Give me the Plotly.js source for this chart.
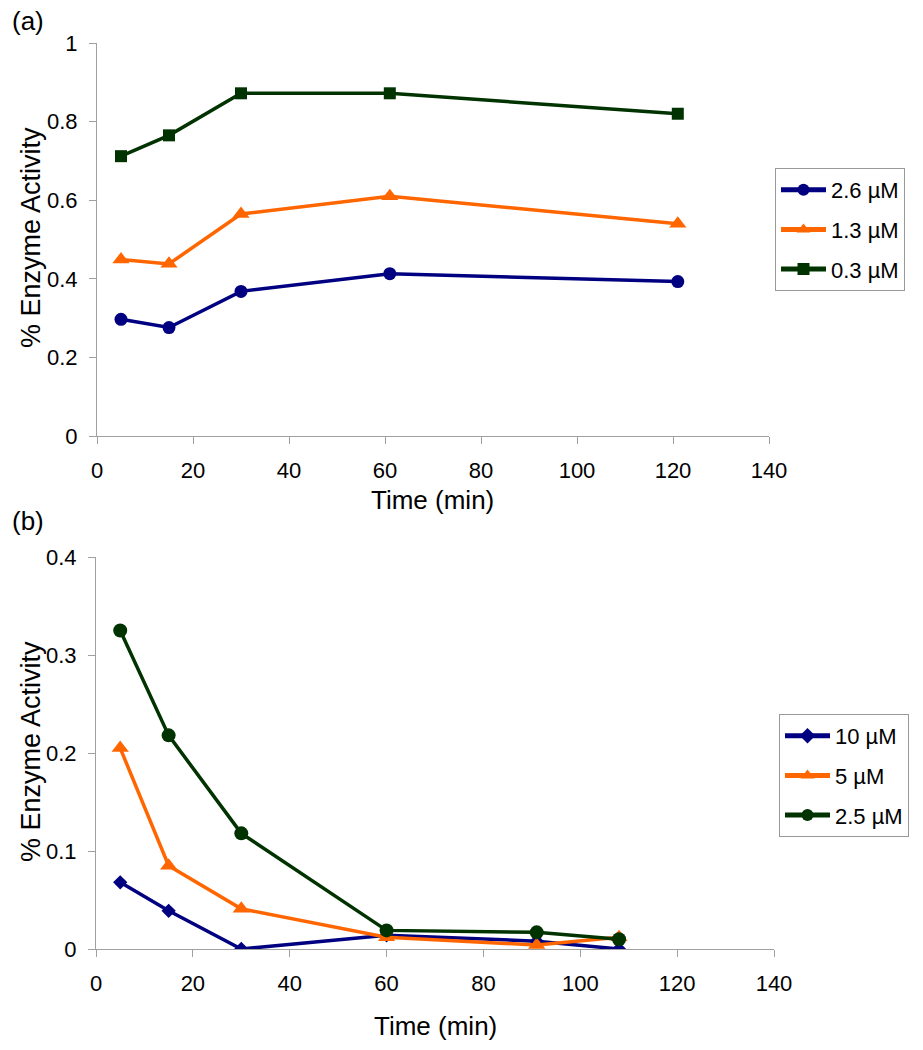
<!DOCTYPE html>
<html><head><meta charset="utf-8">
<script src="https://cdn.plot.ly/plotly-3.0.1.min.js"></script>
<style>body{margin:0;background:#fff}#chart{width:923px;height:1050px}</style>
</head><body><div id="chart"></div>
<script>
// Panel (a)
const timeA = [5, 15, 30, 61, 121];
const a26 = [0.297, 0.276, 0.368, 0.413, 0.393];
const a13 = [0.449, 0.438, 0.565, 0.610, 0.540];
const a03 = [0.712, 0.765, 0.872, 0.872, 0.820];
// Panel (b)
const timeB = [5, 15, 30, 60, 91, 108];
const b10 = [0.068, 0.039, 0.000, 0.014, 0.008, 0.000];
const b5 = [0.205, 0.085, 0.041, 0.012, 0.004, 0.012];
const b25 = [0.325, 0.218, 0.118, 0.019, 0.017, 0.010];

const NAVY = '#000080', ORANGE = '#FF6600', GREEN = '#003300';
const FONT = 'Liberation Sans, Arial, sans-serif';

function tr(x, y, name, color, symbol, xa, ya, leg, msize) {
  return {x: x, y: y, name: name, type: 'scatter', mode: 'lines+markers',
    xaxis: xa, yaxis: ya, legend: leg, legendgroup: name,
    line: {color: color, width: 3.5},
    marker: {color: color, symbol: symbol, size: msize}};
}

const data = [
  tr(timeA, a26, '2.6 µM', NAVY, 'circle', 'x', 'y', 'legend', 13),
  tr(timeA, a13, '1.3 µM', ORANGE, 'triangle-up', 'x', 'y', 'legend', 15),
  tr(timeA, a03, '0.3 µM', GREEN, 'square', 'x', 'y', 'legend', 12),
  tr(timeB, b10, '10 µM', NAVY, 'diamond', 'x2', 'y2', 'legend2', 11),
  tr(timeB, b5, '5 µM', ORANGE, 'triangle-up', 'x2', 'y2', 'legend2', 15),
  tr(timeB, b25, '2.5 µM', GREEN, 'circle', 'x2', 'y2', 'legend2', 14)
];

const axCommon = {showgrid: false, zeroline: false, showline: true, linecolor: '#a0a0a0', linewidth: 1,
  ticks: 'outside', ticklen: 7, tickcolor: '#a0a0a0', tickwidth: 1,
  tickfont: {family: FONT, size: 22, color: '#000'}};
const xExtra = {ticklabelstandoff: 8};
const yExtra = {ticklabelstandoff: 7};

const legCommon = {bgcolor: '#fff', bordercolor: '#999', borderwidth: 1,
  font: {family: FONT, size: 22, color: '#000'}, xanchor: 'left', yanchor: 'top',
  tracegroupgap: 8, itemsizing: 'constant', itemwidth: 45};

const layout = {
  width: 923, height: 1050,
  margin: {l: 0, r: 0, t: 0, b: 0},
  paper_bgcolor: '#fff', plot_bgcolor: '#fff',
  showlegend: true,
  xaxis: Object.assign({}, axCommon, xExtra, {domain: [97/923, 769/923], range: [0, 140], dtick: 20, anchor: 'y'}),
  yaxis: Object.assign({}, axCommon, yExtra, {domain: [1-436/1050, 1-43/1050], range: [0, 1], dtick: 0.2, anchor: 'x'}),
  xaxis2: Object.assign({}, axCommon, xExtra, {domain: [96/923, 774/923], range: [0, 140], dtick: 20, anchor: 'y2'}),
  yaxis2: Object.assign({}, axCommon, yExtra, {domain: [1-949/1050, 1-557/1050], range: [0, 0.4], dtick: 0.1, anchor: 'x2'}),
  legend: Object.assign({}, legCommon, {x: 775/923, y: 1-168/1050}),
  legend2: Object.assign({}, legCommon, {x: 779/923, y: 1-714/1050}),
  annotations: [
    {text: '(a)', x: 10/923, y: 1-21/1050, xref: 'paper', yref: 'paper', xanchor: 'left', yanchor: 'middle', showarrow: false, font: {family: FONT, size: 26, color: '#000'}},
    {text: '(b)', x: 10/923, y: 1-521/1050, xref: 'paper', yref: 'paper', xanchor: 'left', yanchor: 'middle', showarrow: false, font: {family: FONT, size: 26, color: '#000'}},
    {text: 'Time (min)', x: 432/923, y: 1-500/1050, xref: 'paper', yref: 'paper', xanchor: 'center', yanchor: 'middle', showarrow: false, font: {family: FONT, size: 26, color: '#000'}},
    {text: 'Time (min)', x: 435/923, y: 1-1026/1050, xref: 'paper', yref: 'paper', xanchor: 'center', yanchor: 'middle', showarrow: false, font: {family: FONT, size: 26, color: '#000'}},
    {text: '% Enzyme Activity', x: 31/923, y: 1-238/1050, xref: 'paper', yref: 'paper', xanchor: 'center', yanchor: 'middle', textangle: -90, showarrow: false, font: {family: FONT, size: 27, color: '#000'}},
    {text: '% Enzyme Activity', x: 31/923, y: 1-752/1050, xref: 'paper', yref: 'paper', xanchor: 'center', yanchor: 'middle', textangle: -90, showarrow: false, font: {family: FONT, size: 27, color: '#000'}}
  ]
};

Plotly.newPlot('chart', data, layout, {displayModeBar: false, staticPlot: true});
</script>
</body></html>
